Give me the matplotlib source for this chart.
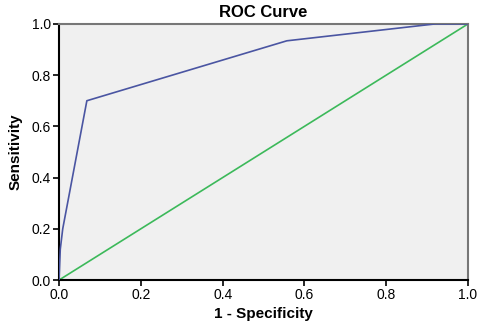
import matplotlib
matplotlib.use('Agg')
import matplotlib.pyplot as plt

plt.rcParams['font.family'] = ['Liberation Sans', 'DejaVu Sans']

# ROC curve points
fpr = [0.0, 0.003, 0.009, 0.068, 0.557, 0.92, 1.0]
tpr = [0.0, 0.12, 0.20, 0.70, 0.934, 1.0, 1.0]
ref_line = [0.0, 1.0]
ticks = [0.0, 0.2, 0.4, 0.6, 0.8, 1.0]
tick_labels = ['0.0', '0.2', '0.4', '0.6', '0.8', '1.0']

fig = plt.figure(figsize=(4.84, 3.23), dpi=100)
ax = fig.add_axes([0.122, 0.133, 0.845, 0.793])
ax.set_facecolor('#f0f0f0')

ax.plot(fpr, tpr, color='#4a55a2', lw=1.2, zorder=3)
ax.plot(ref_line, ref_line, color='#3cb95a', lw=1.2, zorder=2)

ax.set_xlim(0, 1)
ax.set_ylim(0, 1)
ax.set_xticks(ticks)
ax.set_yticks(ticks)
ax.set_xticklabels(tick_labels)
ax.set_yticklabels(tick_labels)
ax.tick_params(direction='out', length=4, width=1.2, labelsize=10, color='black', pad=2)

for side in ['left', 'bottom']:
    ax.spines[side].set_color('black')
    ax.spines[side].set_linewidth(1.5)
for side in ['top', 'right']:
    ax.spines[side].set_color('#777777')
    ax.spines[side].set_linewidth(1.5)

ax.set_title('ROC Curve', fontsize=12, fontweight='bold', pad=5)
ax.set_xlabel('1 - Specificity', fontsize=11, fontweight='bold', labelpad=3)
ax.set_ylabel('Sensitivity', fontsize=11, fontweight='bold', labelpad=6)

fig.savefig('out.png', dpi=100)
